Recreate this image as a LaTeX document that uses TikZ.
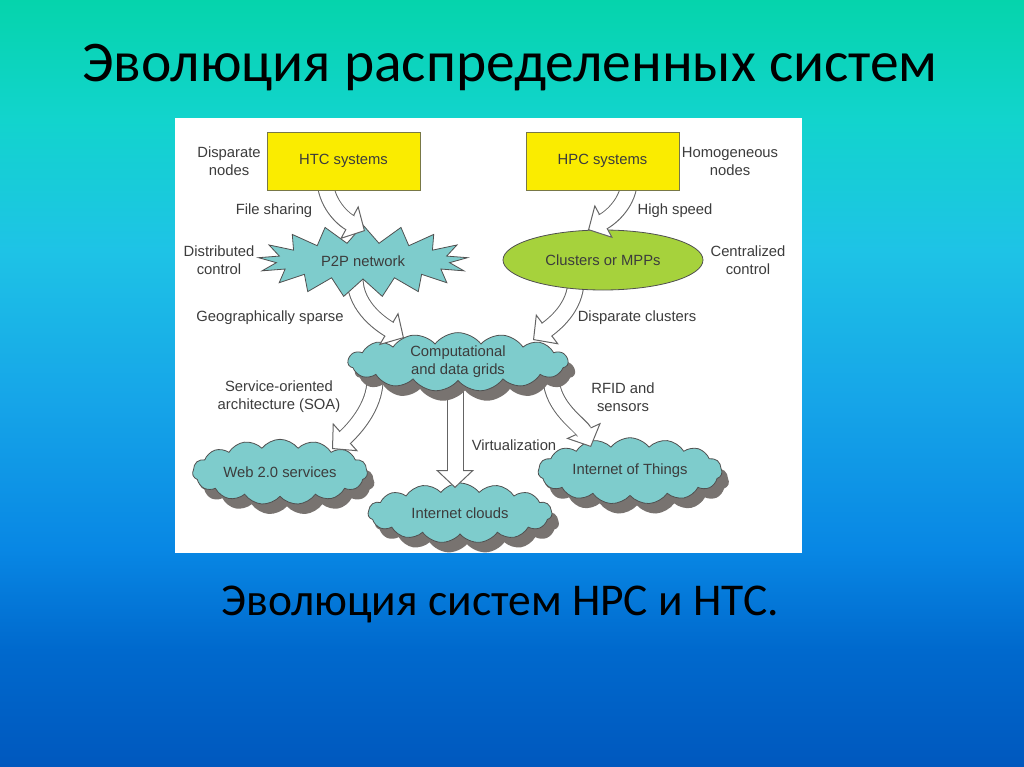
\documentclass[tikz,border=0pt]{standalone}
\usepackage{fontspec}
\setmainfont{Carlito}
\newfontfamily\arialf{Liberation Sans}
\usetikzlibrary{shapes.symbols,shapes.geometric,shadows,arrows.meta,calc}
\definecolor{bgA}{RGB}{0,88,190}
\definecolor{bgB}{RGB}{0,105,205}
\definecolor{bgC}{RGB}{8,135,228}
\definecolor{bgD}{RGB}{22,165,232}
\definecolor{bgE}{RGB}{30,195,230}
\definecolor{bgF}{RGB}{18,212,205}
\definecolor{bgG}{RGB}{5,212,172}
\definecolor{tealf}{RGB}{126,204,204}
\definecolor{outl}{RGB}{80,80,80}
\definecolor{shadowc}{RGB}{120,115,112}
\definecolor{yellowf}{RGB}{250,236,0}
\definecolor{yellowo}{RGB}{120,120,70}
\definecolor{greenf}{RGB}{166,210,60}
\definecolor{txtg}{RGB}{60,60,60}
\definecolor{arrg}{RGB}{100,100,100}
\pgfdeclareverticalshading{slidebg}{100bp}{color(0bp)=(bgA); color(25bp)=(bgA); color(32.6bp)=(bgB); color(39.2bp)=(bgC); color(48.9bp)=(bgD); color(58.7bp)=(bgE); color(67.2bp)=(bgF); color(75bp)=(bgG); color(100bp)=(bgG)}
\begin{document}
\begin{tikzpicture}[x=1pt,y=-1pt,
  lbl/.style={font=\arialf\fontsize{14.8}{18}\selectfont, text=txtg, align=center, inner sep=0pt},
  ybox/.style={lbl, draw=yellowo, line width=0.8pt, fill=yellowf, minimum width=153pt, minimum height=58pt},
  burst/.style={lbl, starburst, starburst points=17, starburst point height=18pt, random starburst=0, draw=outl, line width=0.8pt, fill=tealf, minimum width=210pt, minimum height=72pt},
  ell/.style={lbl, ellipse, draw=outl, line width=0.8pt, fill=greenf, minimum width=200pt, minimum height=60pt},
  cld/.style={lbl, cloud, cloud puffs=15, cloud puff arc=105, aspect=3.2, draw=outl, line width=0.8pt, fill=tealf,
     drop shadow={shadow xshift=7pt, shadow yshift=-10pt, fill=shadowc, opacity=1}},
  barrow/.style={
     preaction={draw=arrg, line width=1pt, shorten >=0pt, -{Triangle[width=38pt,length=18pt,fill=white]}},
     preaction={draw=arrg, line width=17pt, shorten >=17pt},
     draw=white, line width=15pt, shorten >=15.5pt},
  title/.style={font=\fontsize{57.5}{60}\selectfont, text=black, inner sep=0pt, anchor=base},
  subtitle/.style={font=\fontsize{45.5}{48}\selectfont, text=black, inner sep=0pt, anchor=base}
]
\shade[shading=slidebg] (0,0) rectangle (1024,767);
\useasboundingbox (0,0) rectangle (1024,767);

\node[title] (title) at (510,82) {Эволюция распределенных систем};
\node[subtitle] (sub) at (500,615) {Эволюция систем HPC и HTC.};

\node[fill=white, inner sep=0pt, minimum width=627pt, minimum height=435pt] (panel) at (488.5,335.5) {};

% positions of the main nodes
\coordinate (htcpos) at (343.5,161);
\coordinate (hpcpos) at (602.5,161);
\coordinate (p2ppos) at (363,261);
\coordinate (mpppos) at (603,260);
\coordinate (gridpos) at (458,362);

% lower clouds
\node[cld, minimum width=175pt, minimum height=60pt] (web) at (280,472) {\raisebox{-7pt}{Web 2.0 services}};
\node[cld, minimum width=184pt, minimum height=60pt] (inet) at (460,513) {Internet clouds};
\node[cld, minimum width=184pt, minimum height=58pt] (iot) at (630,471) {\raisebox{-6pt}{Internet of Things}};

% arrows out of the grid cloud
\draw[barrow] ($(gridpos)+(-83,16)$) .. controls +(1,30) and +(18,-16) .. ($(web.center)+(52,-23)$);
\draw[barrow] ($(gridpos)+(-3,13)$) -- ($(inet.center)+(-5,-25)$);
\draw[barrow] ($(gridpos)+(93,16)$) .. controls +(1,30) and +(-10,-22) .. ($(iot.center)+(-39,-24)$);

\node[cld, minimum width=220pt, minimum height=58pt] (grid) at (gridpos) {Computational\\and data grids};

% arrows into the grid cloud
\draw[barrow] ($(p2ppos)+(-8,19)$) .. controls +(1,28) and +(-22,-13) .. ($(grid.center)+(-54,-24)$);
\draw[barrow] ($(mpppos)+(-27,20)$) .. controls +(0,28) and +(20,-15) .. ($(grid.center)+(75,-22)$);

\node[burst] (p2p) at (p2ppos) {P2P network};
\node[ell] (mpp) at (mpppos) {Clusters or MPPs};

% arrows from the top boxes
\draw[barrow] ($(htcpos)+(-18.5,17)$) .. controls +(0,25) and +(-22,-12) .. ($(p2p.center)+(2,-30)$);
\draw[barrow] ($(hpcpos)+(27,17)$) .. controls +(0,25) and +(22,-12) .. ($(mpp.center)+(-15,-30)$);

\node[ybox] (htc) at (htcpos) {HTC systems};
\node[ybox] (hpc) at (hpcpos) {HPC systems};

% labels
\node[lbl] (dispn) at (229,161) {Disparate\\nodes};
\node[lbl] (homn) at (730,161) {Homogeneous\\nodes};
\node[lbl] (fs) at (274,211) {File sharing};
\node[lbl] (hs) at (675,211) {High speed};
\node[lbl] (dc) at (219,260) {Distributed\\control};
\node[lbl] (cc) at (748,260) {Centralized\\control};
\node[lbl] (gs) at (270,318) {Geographically sparse};
\node[lbl] (dcl) at (637,318) {Disparate clusters};
\node[lbl] (soa) at (279,397) {Service-oriented\\architecture (SOA)};
\node[lbl] (rfid) at (623,397) {RFID and\\sensors};
\node[lbl] (virt) at (514,445) {Virtualization};
\end{tikzpicture}
\end{document}
